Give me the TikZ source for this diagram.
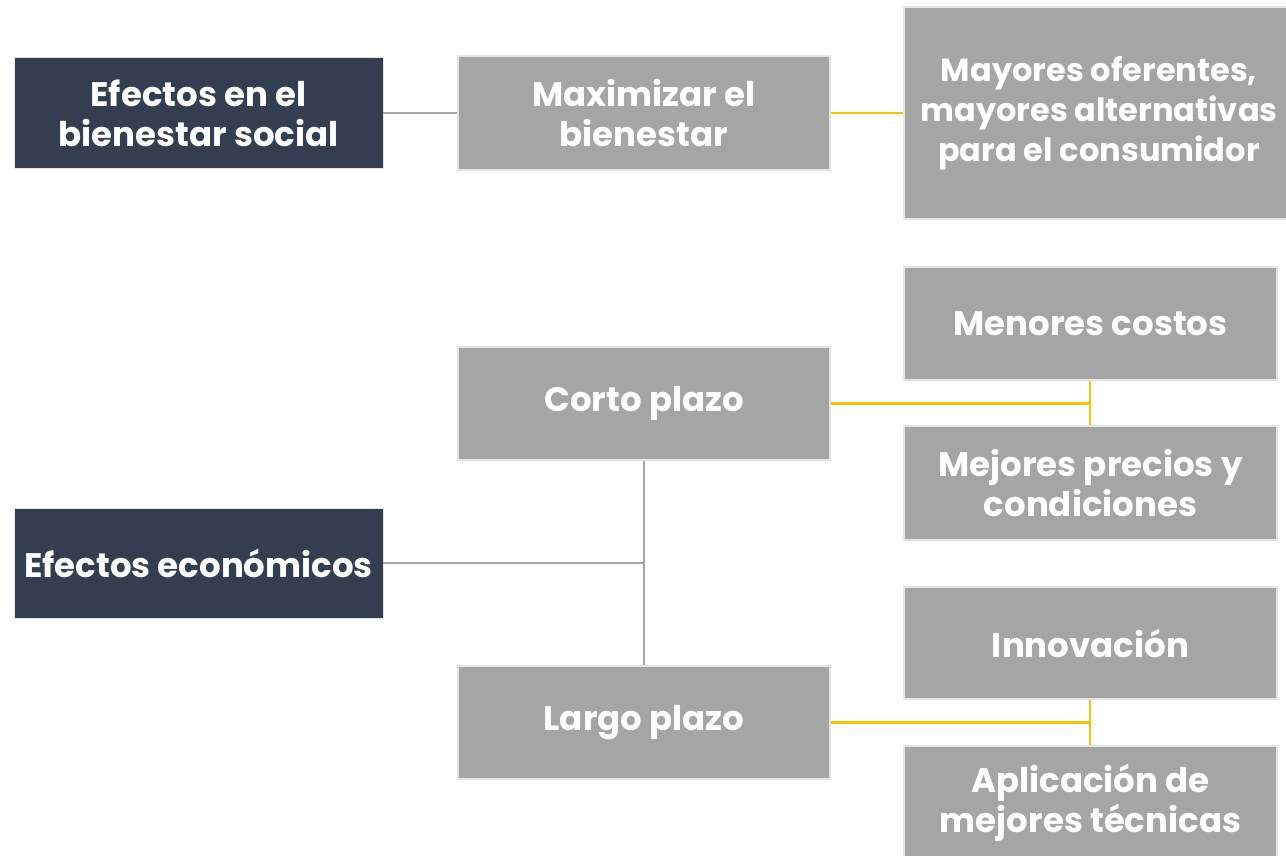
\documentclass[tikz,border=0pt]{standalone}
\usepackage{fontspec}
\setmainfont{Poppins}
\definecolor{darkbox}{HTML}{333F50}
\definecolor{graybox}{HTML}{A5A5A5}
\definecolor{edgegray}{HTML}{E4E4E4}
\definecolor{linegray}{HTML}{A5A5A5}
\definecolor{lineyellow}{HTML}{FFC000}
\tikzset{
  box/.style={rectangle, inner sep=0pt, align=center, text=white,
    font=\fontsize{34}{40}\selectfont\bfseries, line width=1.5pt},
  darkcard/.style={box, fill=darkbox, draw=edgegray, line width=0.8pt},
  graycard/.style={box, fill=graybox, draw=edgegray},
  grayline/.style={draw=linegray, line width=2.5pt},
  yellowline/.style={draw=lineyellow, line width=2.5pt},
}
\begin{document}
\begin{tikzpicture}[x=1pt,y=-1pt]
\useasboundingbox (0,0) rectangle (1286,855);
\begin{scope}
\clip (0,0) rectangle (1286,855);
\node[darkcard, minimum width=369pt, minimum height=111pt] (es) at (198.5,113) {Efectos en el\\bienestar social};
\node[graycard, minimum width=372pt, minimum height=114pt] (max) at (644,113) {Maximizar el\\bienestar};
\node[graycard, minimum width=390pt, minimum height=212pt, font=\fontsize{32}{40}\selectfont\bfseries] (may) at (1099,113) {Mayores oferentes,\\mayores alternativas\\para el consumidor};
\node[graycard, minimum width=372pt, minimum height=113pt] (corto) at (644,403.5) {Corto plazo};
\node[graycard, minimum width=373pt, minimum height=113pt] (men) at (1090.5,323.5) {Menores costos};
\node[graycard, minimum width=373pt, minimum height=114pt] (mej) at (1090.5,483) {Mejores precios y\\condiciones};
\node[darkcard, minimum width=369pt, minimum height=110pt] (econ) at (198.5,563) {Efectos económicos};
\node[graycard, minimum width=372pt, minimum height=113pt] (largo) at (644,722.5) {Largo plazo};
\node[graycard, minimum width=373pt, minimum height=112pt] (inn) at (1090.5,643) {Innovación};
\node[graycard, minimum width=373pt, minimum height=114pt] (apl) at (1090.5,803) {Aplicación de\\mejores técnicas};
\end{scope}
\coordinate (cj) at (644,563);
\coordinate (tj) at (1090,403.5);
\coordinate (bj) at (1090,722.5);
\draw[grayline] (es.east) -- (max.west);
\draw[yellowline] (max.east) -- (max.east -| may.west);
\draw[grayline] (econ.east) -- (cj);
\draw[grayline] (corto.south) -- (largo.north);
\draw[yellowline] (corto.east) -- (tj);
\draw[yellowline] (men.south -| tj) -- (mej.north -| tj);
\draw[yellowline] (largo.east) -- (bj);
\draw[yellowline] (inn.south -| bj) -- (apl.north -| bj);
\end{tikzpicture}
\end{document}
